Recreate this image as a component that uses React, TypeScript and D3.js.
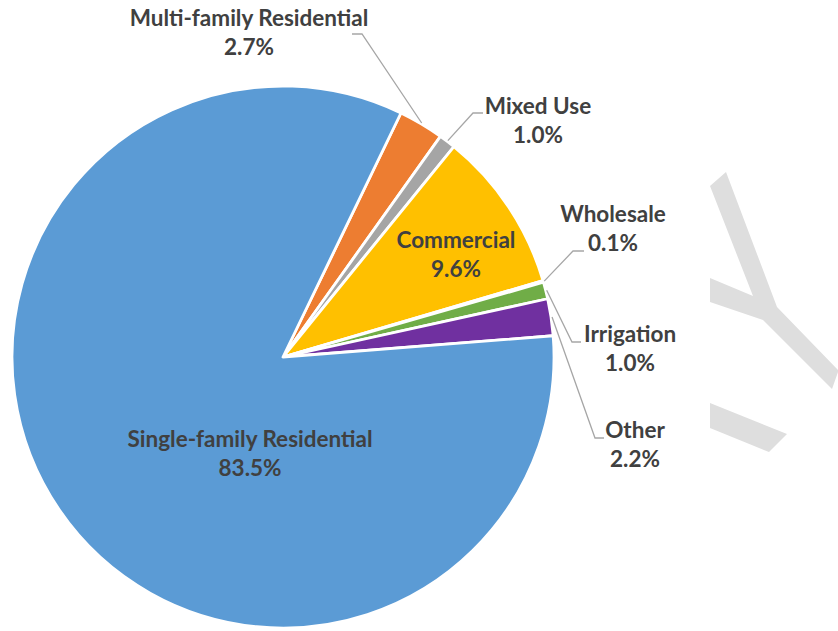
import React from "react";
import * as d3 from "d3";

const categories = [
  "Multi-family Residential",
  "Mixed Use",
  "Commercial",
  "Wholesale",
  "Irrigation",
  "Other",
  "Single-family Residential",
];
const values = [2.7, 1.0, 9.6, 0.1, 1.0, 2.2, 83.5];
const valueLabels = ["2.7%", "1.0%", "9.6%", "0.1%", "1.0%", "2.2%", "83.5%"];
const colors = ["#ED7D31", "#A5A5A5", "#FFC000", "#4472C4", "#70AD47", "#7030A0", "#5B9BD5"];

// label layout: center x, first baseline y, optional leader [bend, end]
const labelLayout: Record<string, { cx: number; y: number; leader?: [number, number][] }> = {
  "Multi-family Residential": { cx: 249, y: 26, leader: [[362, 34], [352, 34]] },
  "Mixed Use": { cx: 538, y: 114, leader: [[473, 113], [483, 113]] },
  Commercial: { cx: 456, y: 248 },
  Wholesale: { cx: 613, y: 222, leader: [[573, 251], [584, 251]] },
  Irrigation: { cx: 630, y: 342, leader: [[572, 342], [581, 342]] },
  Other: { cx: 635, y: 438, leader: [[595, 438], [604, 438]] },
  "Single-family Residential": { cx: 250, y: 447 },
};

const W = 838;
const H = 631;
const CX = 283;
const CY = 357;
const R = 271;
const START = (25.8 * Math.PI) / 180;

export default function App() {
  const pie = d3
    .pie<number>()
    .sort(null)
    .value((d) => d)
    .startAngle(START)
    .endAngle(START + 2 * Math.PI);
  const arcs = pie(values);
  const arcGen = d3.arc<d3.PieArcDatum<number>>().innerRadius(0).outerRadius(R);
  const line = d3.line();

  const font = "Lato, 'Open Sans', sans-serif";

  return (
    <svg
      width={W}
      height={H}
      style={{ position: "absolute", left: 0, top: 0, background: "#fff" }}
    >
      {/* watermark */}
      <g fill="#DEDEDE">
        <polygon points="710,186 726,172 777,307 838,370 838,372 832,389 763,320 710,302 710,278 753,296" />
        <polygon points="710,403 787,434 769,452 710,428" />
      </g>
      <g transform={`translate(${CX},${CY})`}>
        {arcs.map((a, i) => (
          <path key={categories[i]} d={arcGen(a) || ""} fill={colors[i]} stroke="#fff" strokeWidth={2.8} strokeLinejoin="round" />
        ))}
      </g>
      {arcs.map((a, i) => {
        const lay = labelLayout[categories[i]];
        if (!lay.leader) return null;
        const mid = (a.startAngle + a.endAngle) / 2;
        const sx = CX + Math.sin(mid) * (R + 1);
        const sy = CY - Math.cos(mid) * (R + 1);
        const pts: [number, number][] = [[sx, sy], ...lay.leader];
        return (
          <path key={"l" + i} d={line(pts) || ""} fill="none" stroke="#A6A6A6" strokeWidth={1.3} />
        );
      })}
      {categories.map((c, i) => {
        const lay = labelLayout[c];
        return (
          <text
            key={"t" + i}
            textAnchor="middle"
            fontFamily={font}
            fontWeight="bold"
            fontSize={22.5}
            fill="#404040"
          >
            <tspan x={lay.cx} y={lay.y}>{c}</tspan>
            <tspan x={lay.cx} y={lay.y + 29}>{valueLabels[i]}</tspan>
          </text>
        );
      })}
    </svg>
  );
}
